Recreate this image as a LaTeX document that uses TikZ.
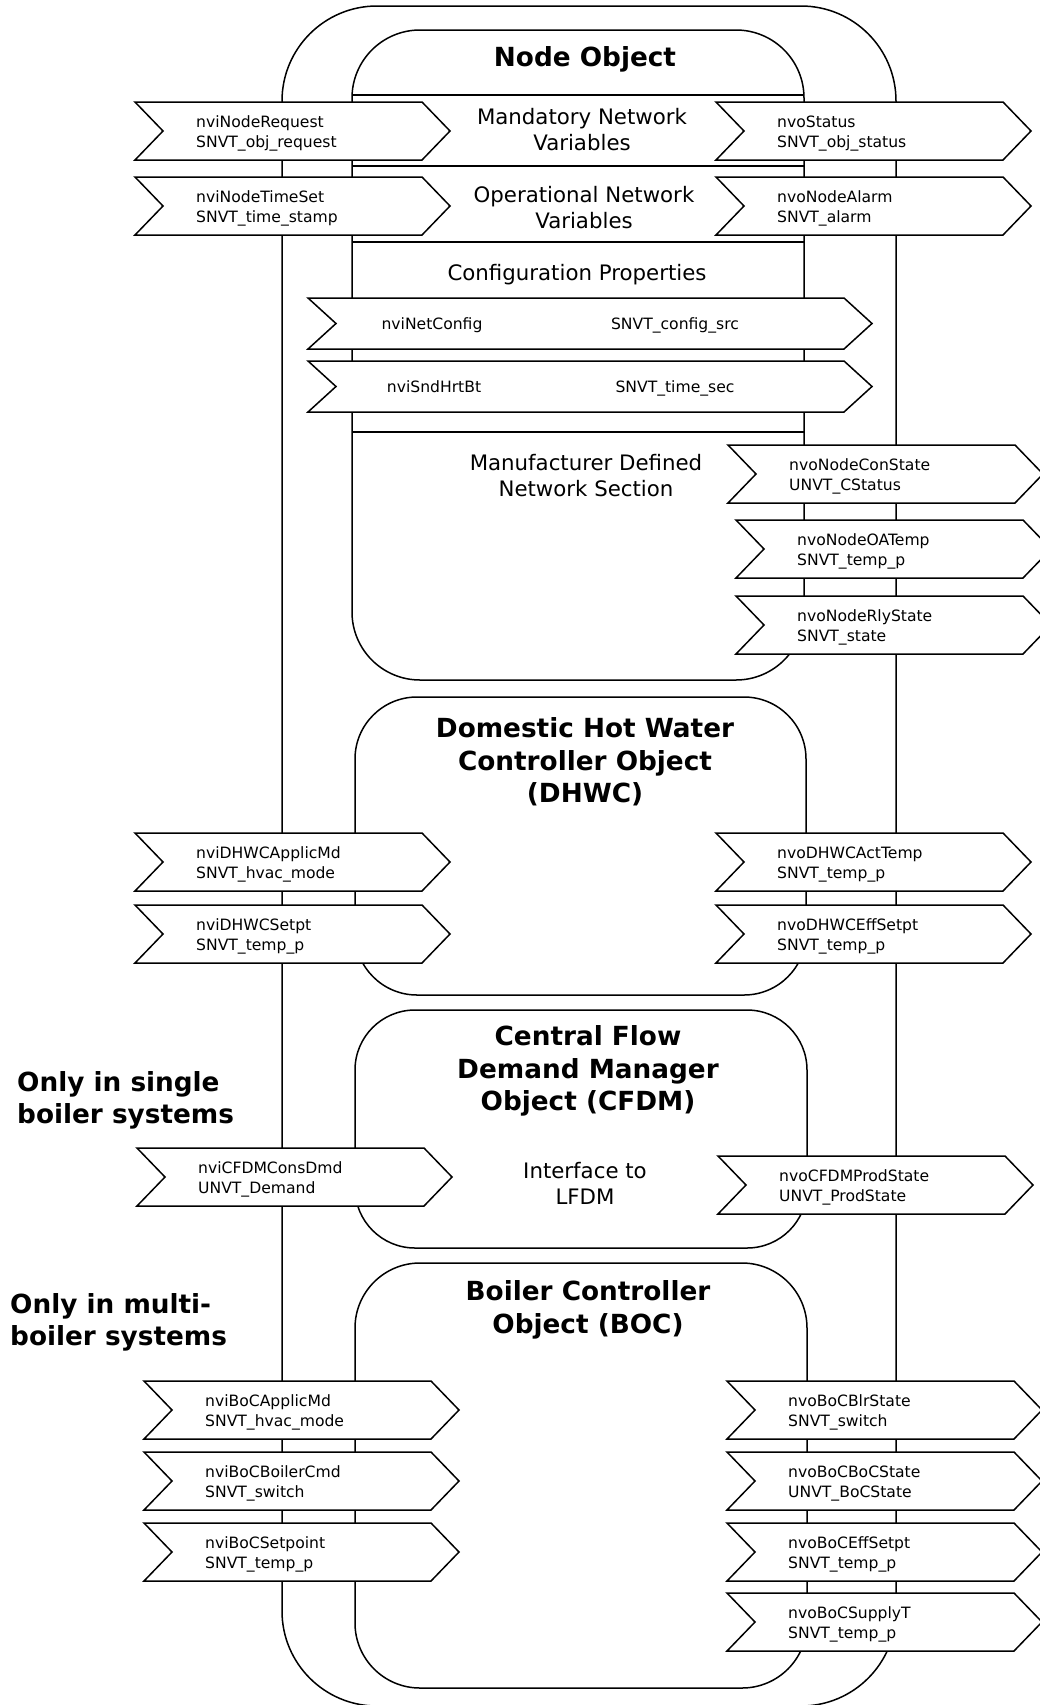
\documentclass[tikz,border=0pt]{standalone}
\usepackage{fontspec}
\setmainfont{DejaVu Sans}
\newcommand\nvchev[6]{% name, left x, top y, height, total width, text
  \draw[chev] (#2,#3) -- ++(#5-28,0) -- ++(28,#4/2) -- ++(-28,#4/2) -- ++(-#5+28,0) -- ++(28,-#4/2) -- cycle;
  \node[nv, anchor=west] (#1) at (#2+61,#3+#4/2+2.5) {#6};
}
\begin{document}
\begin{tikzpicture}[x=1pt,y=-1pt,
  objbox/.style={draw, line width=1.5pt, rounded corners=#1},
  sepline/.style={draw, line width=1.5pt},
  chev/.style={draw, fill=white, line width=1.5pt, line join=miter},
  nv/.style={font=\fontsize{15.6}{20}\selectfont, align=left, inner sep=0pt},
  midtxt/.style={font=\fontsize{21.3}{26}\selectfont, align=center, inner sep=0pt},
  ttl/.style={font=\fontsize{26.3}{32.5}\selectfont\bfseries, align=center, inner sep=0pt},
  side/.style={font=\fontsize{26.3}{32}\selectfont\bfseries, align=left, inner sep=0pt, anchor=west},
]
\useasboundingbox (0,0) rectangle (1040,1705);
\clip (0,0) rectangle (1040,1705);
\fill[white] (0,0) rectangle (1040,1705);

% outer frame
\draw[objbox=95pt] (282,6) rectangle (896,1706);

% Node object
\draw[objbox=68pt] (352,30) rectangle (804,680);
\draw[sepline] (352,95) -- (804,95);
\draw[sepline] (352,166) -- (804,166);
\draw[sepline] (352,242) -- (804,242);
\draw[sepline] (352,432) -- (804,432);

% other objects
\draw[objbox=62pt] (355,697) rectangle (806,995);
\draw[objbox=60pt] (355,1010) rectangle (807,1248);
\draw[objbox=65pt] (355,1263) rectangle (807,1688);

% titles and section texts
\node[ttl] (tnode) at (585,59) {Node Object};
\node[midtxt] (mand) at (582,130) {Mandatory Network\\Variables};
\node[midtxt] (oper) at (584,208) {Operational Network\\Variables};
\node[midtxt] (conf) at (577,275) {Configuration Properties};
\node[midtxt] (manu) at (586,476) {Manufacturer Defined\\Network Section};
\node[ttl] (tdhwc) at (585,762) {Domestic Hot Water\\Controller Object\\(DHWC)};
\node[ttl] (tcfdm) at (588,1071) {Central Flow\\Demand Manager\\Object (CFDM)};
\node[midtxt] (lfdm) at (585,1183) {Interface to\\LFDM};
\node[ttl] (tboc) at (588,1310) {Boiler Controller\\Object (BOC)};

\node[side] (single) at (17,1100) {Only in single\\boiler systems};
\node[side] (multi) at (10,1322) {Only in multi-\\boiler systems};

% Node object variables
\nvchev{nreq}{135}{102}{58}{315}{nviNodeRequest\\SNVT\_obj\_request}
\nvchev{ntime}{135}{177}{58}{315}{nviNodeTimeSet\\SNVT\_time\_stamp}
\nvchev{nstat}{716}{102}{58}{315}{nvoStatus\\SNVT\_obj\_status}
\nvchev{nalarm}{716}{177}{58}{315}{nvoNodeAlarm\\SNVT\_alarm}

\draw[chev] (308,298) -- (844,298) -- (872,323.5) -- (844,349) -- (308,349) -- (336,323.5) -- cycle;
\node[nv, anchor=base] (netcfg) at (432,329.5) {nviNetConfig};
\node[nv, anchor=base] (netcfgt) at (675,329.5) {SNVT\_config\_src};
\draw[chev] (308,361) -- (844,361) -- (872,386.5) -- (844,412) -- (308,412) -- (336,386.5) -- cycle;
\node[nv, anchor=base] (hrt) at (434,392.5) {nviSndHrtBt};
\node[nv, anchor=base] (hrtt) at (675,392.5) {SNVT\_time\_sec};

\nvchev{ncon}{728}{445}{58}{315}{nvoNodeConState\\UNVT\_CStatus}
\nvchev{noat}{736}{520}{58}{315}{nvoNodeOATemp\\SNVT\_temp\_p}
\nvchev{nrly}{736}{596}{58}{315}{nvoNodeRlyState\\SNVT\_state}

% DHWC
\nvchev{dapp}{135}{833}{58}{315}{nviDHWCApplicMd\\SNVT\_hvac\_mode}
\nvchev{dset}{135}{905}{58}{315}{nviDHWCSetpt\\SNVT\_temp\_p}
\nvchev{dact}{716}{833}{58}{315}{nvoDHWCActTemp\\SNVT\_temp\_p}
\nvchev{deff}{716}{905}{58}{315}{nvoDHWCEffSetpt\\SNVT\_temp\_p}

% CFDM
\nvchev{ccons}{137}{1148}{58}{315}{nviCFDMConsDmd\\UNVT\_Demand}
\nvchev{cprod}{718}{1156}{58}{315}{nvoCFDMProdState\\UNVT\_ProdState}

% BOC
\nvchev{bapp}{144}{1381}{58}{315}{nviBoCApplicMd\\SNVT\_hvac\_mode}
\nvchev{bcmd}{144}{1452}{58}{315}{nviBoCBoilerCmd\\SNVT\_switch}
\nvchev{bset}{144}{1523}{58}{315}{nviBoCSetpoint\\SNVT\_temp\_p}
\nvchev{bblr}{727}{1381}{58}{315}{nvoBoCBlrState\\SNVT\_switch}
\nvchev{bboc}{727}{1452}{58}{315}{nvoBoCBoCState\\UNVT\_BoCState}
\nvchev{beff}{727}{1523}{58}{315}{nvoBoCEffSetpt\\SNVT\_temp\_p}
\nvchev{bsup}{727}{1593}{58}{315}{nvoBoCSupplyT\\SNVT\_temp\_p}
\end{tikzpicture}
\end{document}
